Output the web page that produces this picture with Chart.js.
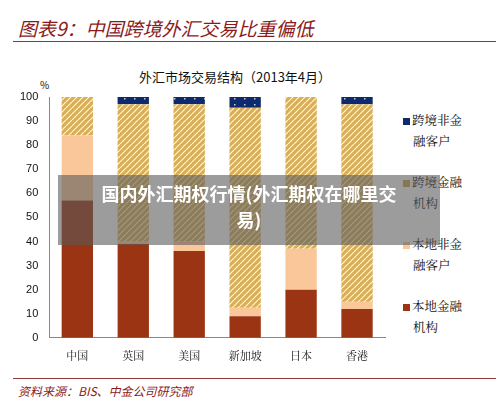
<!DOCTYPE html>
<html><head><meta charset="utf-8">
<script src="https://cdn.jsdelivr.net/npm/chart.js"></script>
<style>
body{margin:0;width:500px;height:417px;background:#fff;position:relative;overflow:hidden;font-family:"Noto Sans CJK SC",sans-serif}
#c{position:absolute;left:0;top:0}
.t{position:absolute}
</style></head><body>
<div class="t" style="left:18px;top:14px;font-size:19px;color:#8B1A1A;font-style:italic;font-family:'Noto Sans CJK SC'">图表9：中国跨境外汇交易比重偏低</div>
<div class="t" style="left:13px;top:41px;width:483px;height:1px;background:#8B3A3A"></div>
<div class="t" style="left:139px;top:67px;font-size:13px;color:#111">外汇市场交易结构（2013年4月）</div>
<div class="t" style="left:40px;top:77px;font-size:10px;color:#111">%</div>
<div class="t" style="left:403px;top:110px;font-size:12.5px;line-height:21px;color:#111;font-family:'Noto Serif CJK SC','Noto Sans CJK SC'">
<div style="position:relative;height:62px"><span style="display:inline-block;width:7px;height:7px;background:#0E2A6E;margin-right:2px"></span>跨境非金<br><span style="margin-left:10px">融客户</span></div>
<div style="position:relative;height:62px"><span style="display:inline-block;width:7px;height:7px;background:#C9A04A;margin-right:2px"></span>跨境金融<br><span style="margin-left:10px">机构</span></div>
<div style="position:relative;height:62px"><span style="display:inline-block;width:7px;height:7px;background:#F9C79A;margin-right:2px"></span>本地非金<br><span style="margin-left:10px">融客户</span></div>
<div style="position:relative;height:62px"><span style="display:inline-block;width:7px;height:7px;background:#9B3412;margin-right:2px"></span>本地金融<br><span style="margin-left:10px">机构</span></div>
</div>
<div class="t" style="left:13px;top:378px;width:483px;height:1px;background:#8B3A3A"></div>
<div class="t" style="left:18px;top:382px;font-size:12px;color:#8B1A1A;font-style:italic">资料来源：BIS、中金公司研究部</div>
<canvas id="c" width="500" height="417"></canvas>
<div class="t" style="left:58px;top:175px;width:382px;height:65px;background:rgba(90,90,90,0.6);color:#fff;font-weight:bold;font-size:18px;text-align:center;line-height:26px;padding-top:5px;z-index:5">国内外汇期权行情(外汇期权在哪里交<br>易)</div>
<script>
const categories=["中国","英国","美国","新加坡","日本","香港"];
const localFin=[57,39,36,9,20,12];
const localNonFin=[27,1,4,3.5,17,3];
const crossFin=[16,57,57,83,63,82];
const crossNonFin=[0,3,3,4.5,0,3];
const yTicks=[0,10,20,30,40,50,60,70,80,90,100];
function hatch(){const p=document.createElement('canvas');p.width=p.height=6;const x=p.getContext('2d');x.fillStyle='#D9AE55';x.fillRect(0,0,6,6);x.strokeStyle='#FFF6E0';x.lineWidth=1.2;x.beginPath();for(let i=-6;i<=12;i+=6){x.moveTo(i,6);x.lineTo(i+6,0);}x.stroke();return document.getElementById('c').getContext('2d').createPattern(p,'repeat');}
function dots(){const p=document.createElement('canvas');p.width=10;p.height=6;const x=p.getContext('2d');x.fillStyle='#0E2A6E';x.fillRect(0,0,10,6);x.fillStyle='#ccd';x.fillRect(4,2,1.5,1.5);return document.getElementById('c').getContext('2d').createPattern(p,'repeat');}
const common={barPercentage:0.56,categoryPercentage:1,borderWidth:0};
new Chart(document.getElementById('c'),{type:'bar',data:{labels:categories,datasets:[
{label:'本地金融机构',data:localFin,backgroundColor:'#9B3412',...common},
{label:'本地非金融客户',data:localNonFin,backgroundColor:'#F9C79A',...common},
{label:'跨境金融机构',data:crossFin,backgroundColor:hatch(),...common},
{label:'跨境非金融客户',data:crossNonFin,backgroundColor:dots(),...common}]},
options:{responsive:false,animation:false,layout:{padding:{left:17,right:115,top:97,bottom:52}},
plugins:{legend:{display:false},tooltip:{enabled:false}},
scales:{x:{stacked:true,grid:{display:false},border:{color:'#888'},ticks:{color:'#111',font:{size:11,family:'Noto Serif CJK SC, Noto Sans CJK SC'}}},
y:{stacked:true,min:0,max:100,afterBuildTicks:a=>{a.ticks=yTicks.map(v=>({value:v}))},grid:{display:false,drawTicks:true},border:{color:'#888'},ticks:{color:'#111',font:{size:11}}}}}});
</script></body></html>
